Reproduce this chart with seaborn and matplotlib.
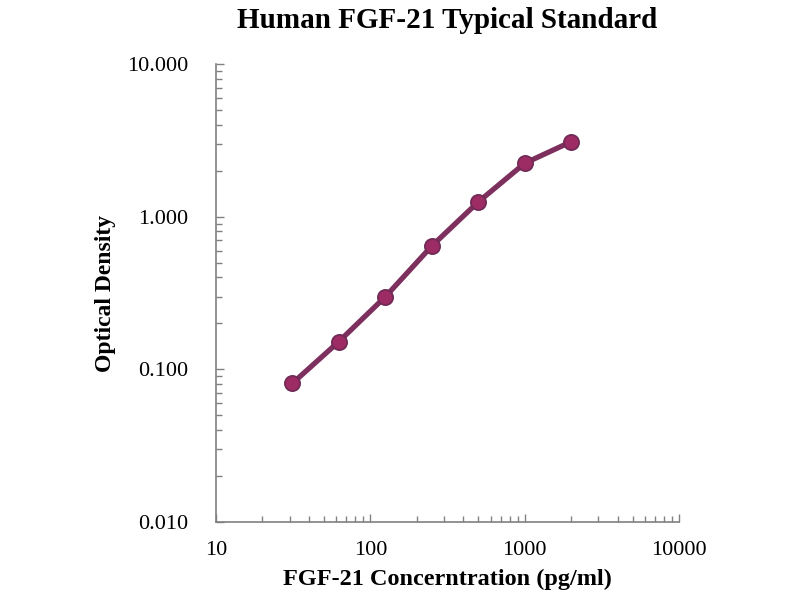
import matplotlib
matplotlib.use("Agg")
import matplotlib.pyplot as plt
import matplotlib.ticker as mticker
import seaborn as sns
import pandas as pd

concentration = [31.25, 62.5, 125, 250, 500, 1000, 2000]
optical_density = [0.081, 0.152, 0.299, 0.643, 1.25, 2.24, 3.10]
y_ticks = [0.01, 0.1, 1, 10]
y_tick_labels = ["0.010", "0.100", "1.000", "10.000"]
x_ticks = [10, 100, 1000, 10000]
x_tick_labels = ["10", "100", "1000", "10000"]

sns.set_theme(style="white")
plt.rcParams['font.family'] = ['Liberation Serif', 'DejaVu Serif']
plt.rcParams['text.color'] = 'black'
plt.rcParams['axes.labelcolor'] = 'black'

df = pd.DataFrame({"conc": concentration, "od": optical_density})

fig = plt.figure(figsize=(8, 6), dpi=100)
ax = fig.add_axes([0.27, 0.13, 0.579, 0.7633])

sns.lineplot(data=df, x="conc", y="od", ax=ax, color="#7d2f5e", linewidth=3.8,
             marker="o", markersize=11, markerfacecolor="#9c2c63",
             markeredgecolor="#6e2a55", markeredgewidth=1.2)

ax.set_xscale("log")
ax.set_yscale("log")
ax.set_xlim(10, 10000)
ax.set_ylim(0.01, 10)
ax.set_xticks(x_ticks)
ax.set_xticklabels(x_tick_labels)
ax.set_yticks(y_ticks)
ax.set_yticklabels(y_tick_labels)
ax.xaxis.set_minor_locator(mticker.LogLocator(base=10, subs=range(2, 10)))
ax.yaxis.set_minor_locator(mticker.LogLocator(base=10, subs=range(2, 10)))
ax.xaxis.set_minor_formatter(mticker.NullFormatter())
ax.yaxis.set_minor_formatter(mticker.NullFormatter())

for s in ["top", "right"]:
    ax.spines[s].set_visible(False)
for s in ["left", "bottom"]:
    ax.spines[s].set_color("#808080")
    ax.spines[s].set_linewidth(1.2)

ax.tick_params(axis="both", which="major", direction="in", length=6, width=1,
               color="#808080", labelsize=16, labelcolor="black",
               left=True, bottom=True)
ax.tick_params(axis="both", which="minor", direction="in", length=4, width=1,
               color="#808080", left=True, bottom=True)
ax.tick_params(axis="y", which="major", pad=20)
ax.tick_params(axis="x", which="major", pad=14)

ax.set_xlabel("FGF-21 Concerntration (pg/ml)", fontsize=17.5, fontweight="bold", labelpad=6)
ax.set_ylabel("Optical Density", fontsize=17, fontweight="bold", labelpad=8)
ax.set_title("Human FGF-21 Typical Standard", fontsize=21, fontweight="bold", pad=26)

fig.savefig("out.png", dpi=100, facecolor="white")
